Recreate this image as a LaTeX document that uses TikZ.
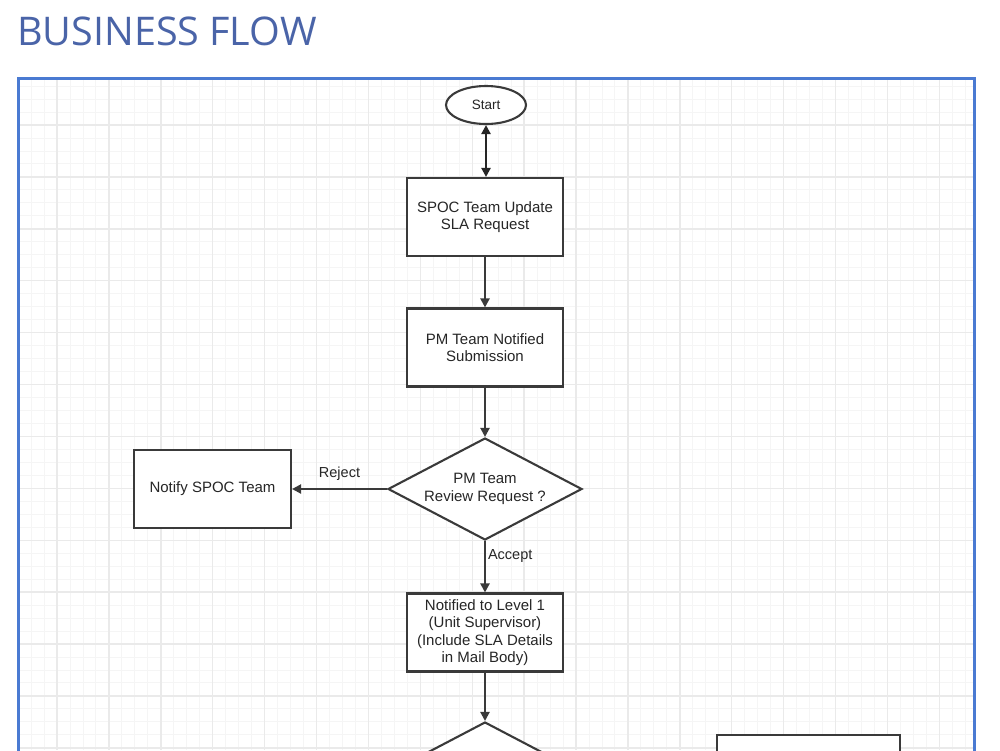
\documentclass[tikz,border=0pt]{standalone}
\usepackage{fontspec}
\setmainfont{Liberation Sans}
\newfontfamily\titlefont{Open Sans}
\usetikzlibrary{shapes.geometric,arrows.meta}
\definecolor{titleblue}{HTML}{4A64A8}
\definecolor{frameblue}{HTML}{4A7AD2}
\definecolor{gridmajor}{HTML}{EAEAEA}
\definecolor{gridminor}{HTML}{F5F5F5}
\definecolor{boxline}{HTML}{3A3A3A}
\definecolor{txt}{HTML}{262626}
\tikzset{
  flowbox/.style={draw=boxline, line width=2.1pt, fill=white, rectangle, minimum width=156, minimum height=78, inner sep=2pt, align=center, text=txt, font=\fontsize{15}{17.5}\selectfont},
  decision/.style={draw=boxline, line width=2.1pt, fill=white, diamond, aspect=1.9, minimum width=194, minimum height=102, inner sep=0pt, align=center, text=txt, font=\fontsize{15}{17.5}\selectfont},
  terminal/.style={draw=boxline, line width=2.1pt, fill=white, ellipse, minimum width=80, minimum height=38, inner sep=0pt, text=txt, font=\fontsize{13.5}{15}\selectfont},
  flow/.style={draw=boxline, line width=2.1pt, -{Triangle[length=9pt,width=9pt]}},
  twoway/.style={draw=black!85, line width=2.6pt, {Triangle[length=9pt,width=9pt]}-{Triangle[length=9pt,width=9pt]}},
  edgelabel/.style={text=txt, font=\fontsize{14.5}{17}\selectfont, inner sep=0pt},
  minorline/.style={draw=gridminor, line width=0.9pt},
  majorline/.style={draw=gridmajor, line width=1.4pt}
}
\begin{document}
\begin{tikzpicture}[x=1pt,y=-1pt]
\useasboundingbox (0,0) rectangle (1000,750);
\fill[white] (0,0) rectangle (1000,750);
% title
\node[anchor=base west, inner sep=0pt, text=titleblue, font=\titlefont\fontsize{39.5}{42}\selectfont] (title) at (17,45) {BUSINESS FLOW};
\begin{scope}
\clip (19,79) rectangle (973,750);
% grid
\foreach \i in {0,...,76} {
  \draw[minorline] ({5.1+\i*12.975},79) -- ({5.1+\i*12.975},750);
}
\foreach \j in {-1,...,56} {
  \draw[minorline] (19,{21.2+\j*12.975}) -- (973,{21.2+\j*12.975});
}
\foreach \i in {0,...,19} {
  \draw[majorline] ({5.1+\i*51.9},79) -- ({5.1+\i*51.9},750);
}
\foreach \j in {0,...,14} {
  \draw[majorline] (19,{21.2+\j*51.9}) -- (973,{21.2+\j*51.9});
}
% nodes
\node[terminal] (start) at (486,105) {Start};
\node[flowbox] (spoc) at (485,217) {SPOC Team Update\\SLA Request};
\node[flowbox] (pmnot) at (485,347.5) {PM Team Notified\\Submission};
\node[decision] (review) at (485,489) {PM Team\\Review Request ?};
\node[flowbox, minimum width=157] (notify) at (212.5,489) {Notify SPOC Team};
\node[flowbox] (level1) at (485,632.5) {Notified to Level 1\\(Unit Supervisor)\\(Include SLA Details\\in Mail Body)};
\node[decision] (review2) at (485,773) {};
\node[flowbox, minimum width=183] (rightbox) at (808.5,774) {};
% connectors
\draw[twoway] (start) -- (start |- spoc.north);
\draw[flow] (spoc) -- (pmnot);
\draw[flow] (pmnot) -- (review);
\draw[flow] (review.west) -- node[edgelabel, above=7pt] {Reject} (notify.east);
\draw[flow] (review.south) -- node[edgelabel, pos=0.3, anchor=west, xshift=2pt] {Accept} (level1.north);
\draw[flow] (level1) -- (review2.north);
\end{scope}
% frame
\draw[frameblue, line width=3pt] (18,752) -- (18,78) -- (974,78) -- (974,752);
\end{tikzpicture}
\end{document}
